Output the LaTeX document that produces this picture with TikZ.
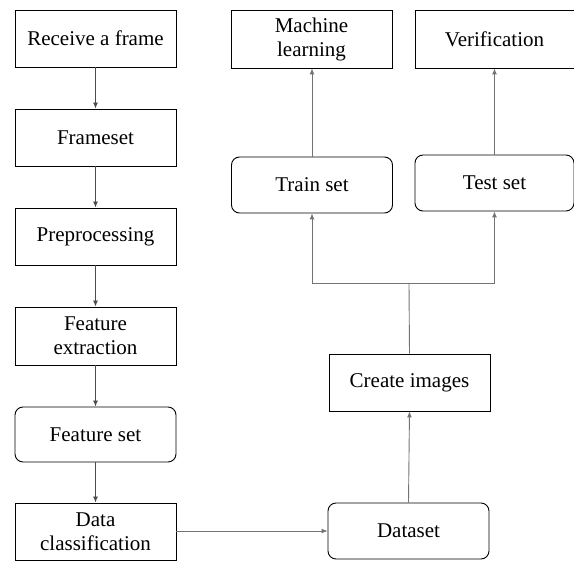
\documentclass[tikz,border=0pt]{standalone}
\usepackage{fontspec}
\setmainfont{Liberation Serif}
\usetikzlibrary{arrows.meta}
\begin{document}
\begin{tikzpicture}[x=1pt,y=-1pt,
  box/.style={draw=black, line width=0.9pt, minimum width=161pt, minimum height=57pt,
    inner sep=0pt, align=center, font=\fontsize{21}{24}\selectfont},
  rbox/.style={box, rounded corners=8pt, minimum height=56pt},
  flow/.style={draw=black!70, line width=0.9pt, -{Latex[length=6pt,width=5pt]}},
  link/.style={draw=black!55, line width=0.9pt},
  linkarrow/.style={link, -{Latex[length=6pt,width=5pt]}}]
\useasboundingbox (0,0) rectangle (574,561);

% left column: frame processing chain
\node[box]  (recv)    at (95.5,38.5)  {Receive a frame};
\node[box]  (frames)  at (95.5,137.5) {Frameset};
\node[box]  (prep)    at (95.5,236.5) {Preprocessing};
\node[box, minimum height=58pt] (fext) at (95.5,336) {Feature\\extraction};
\node[rbox, minimum height=55pt] (fset) at (95.5,434.5) {Feature set};
\node[box]  (dcls)    at (95.5,531.5) {Data\\classification};

% right side: dataset and learning
\node[box, minimum height=58pt] (ml) at (311.5,39) {Machine\\learning};
\node[box, minimum width=159pt, minimum height=58pt] (verif) at (494.5,39) {Verification};
\node[rbox] (train)   at (312,185)    {Train set};
\node[rbox, minimum width=159pt] (test) at (494.5,183) {Test set};
\node[box]  (create)  at (409.5,382.5) {Create images};
\node[rbox] (data)    at (408.5,531)  {Dataset};

\coordinate (fork) at (409,283);

% chain arrows
\draw[flow] (recv)   -- (frames);
\draw[flow] (frames) -- (prep);
\draw[flow] (prep)   -- (fext);
\draw[flow] (fext)   -- (fset);
\draw[flow] (fset)   -- (dcls);

\draw[linkarrow] (dcls.east |- data.west) -- (data.west);
\draw[linkarrow] (data.north) -- (create.south);
\draw[link] (create.north) -- (fork);
\draw[linkarrow] (fork) -| (train.south);
\draw[linkarrow] (fork) -| (test.south);
\draw[linkarrow] (train.north) -- (train.north |- ml.south);
\draw[linkarrow] (test.north)  -- (test.north |- verif.south);
\end{tikzpicture}
\end{document}
